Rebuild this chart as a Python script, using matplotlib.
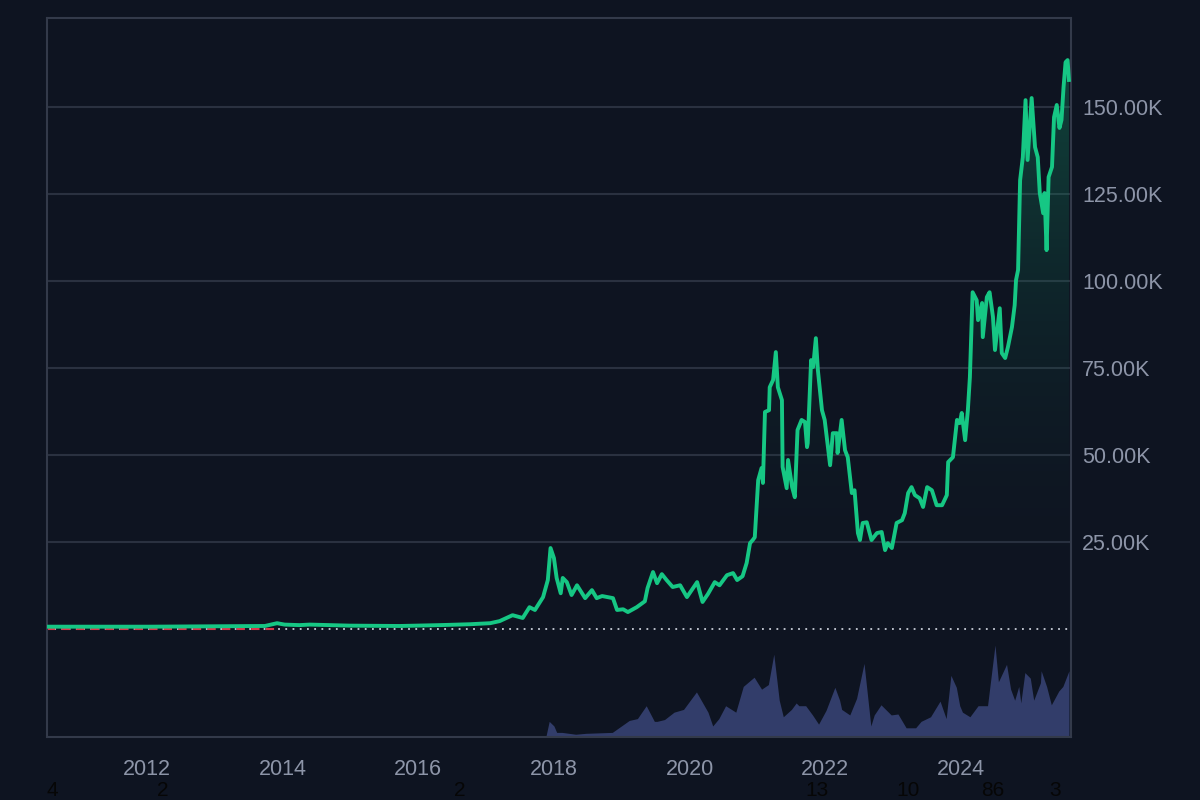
import numpy as np
import matplotlib
matplotlib.use("Agg")
import matplotlib.pyplot as plt
from matplotlib.ticker import FuncFormatter
import matplotlib.transforms as mtransforms

plt.rcParams['font.family'] = ['Liberation Sans', 'DejaVu Sans']

# price history (decimal year, price in thousands)
years = [2010.53, 2012.04, 2013.74, 2013.92, 2014.03, 2014.25, 2014.40, 2014.99, 2015.73,
         2016.32, 2016.76, 2017.06, 2017.20, 2017.39, 2017.54, 2017.64, 2017.72, 2017.84,
         2017.91, 2017.95, 2018.00, 2018.04, 2018.10, 2018.13, 2018.19, 2018.26, 2018.34,
         2018.46, 2018.56, 2018.63, 2018.71, 2018.87, 2018.93, 2019.02, 2019.09, 2019.22,
         2019.34, 2019.38, 2019.46, 2019.52, 2019.59, 2019.66, 2019.75, 2019.86, 2019.96,
         2020.03, 2020.11, 2020.19, 2020.27, 2020.37, 2020.44, 2020.55, 2020.64, 2020.70,
         2020.78, 2020.84, 2020.89, 2020.93, 2020.96, 2021.01, 2021.06, 2021.08, 2021.11,
         2021.17, 2021.18, 2021.23, 2021.27, 2021.30, 2021.36, 2021.37, 2021.43, 2021.45,
         2021.51, 2021.55, 2021.59, 2021.65, 2021.70, 2021.73, 2021.74, 2021.79, 2021.82,
         2021.86, 2021.89, 2021.95, 2021.99, 2022.07, 2022.11, 2022.17, 2022.18, 2022.24,
         2022.29, 2022.33, 2022.39, 2022.43, 2022.48, 2022.51, 2022.55, 2022.61, 2022.68,
         2022.76, 2022.83, 2022.88, 2022.92, 2022.98, 2023.05, 2023.13, 2023.17, 2023.22,
         2023.27, 2023.32, 2023.39, 2023.44, 2023.50, 2023.57, 2023.64, 2023.72, 2023.79,
         2023.81, 2023.88, 2023.94, 2023.98, 2024.01, 2024.06, 2024.10, 2024.13, 2024.17,
         2024.23, 2024.25, 2024.31, 2024.32, 2024.38, 2024.42, 2024.47, 2024.50, 2024.57,
         2024.60, 2024.65, 2024.69, 2024.75, 2024.79, 2024.81, 2024.84, 2024.87, 2024.91,
         2024.95, 2024.98, 2025.04, 2025.09, 2025.13, 2025.16, 2025.21, 2025.23, 2025.26,
         2025.29, 2025.34, 2025.37, 2025.41, 2025.45, 2025.48, 2025.51, 2025.54, 2025.57,
         2025.59]
price_k = [0.7, 0.7, 0.9, 1.7, 1.3, 1.15, 1.3, 1.0, 0.9,
           1.15, 1.4, 1.7, 2.3, 4.0, 3.2, 6.3, 5.5, 9.2,
           14.1, 23.3, 20.4, 14.7, 10.3, 14.7, 13.5, 9.8, 12.6,
           8.9, 11.2, 8.9, 9.5, 8.9, 5.5, 5.7, 4.9, 6.3,
           8.0, 11.8, 16.4, 13.2, 15.8, 14.1, 12.1, 12.6, 9.2,
           11.2, 13.5, 7.8, 10.1, 13.5, 12.6, 15.5, 16.1, 14.1,
           15.2, 19.0, 24.7, 25.6, 26.4, 42.8, 46.3, 42.0, 62.4,
           62.9, 69.5, 71.6, 79.6, 69.5, 65.8, 46.6, 40.5, 48.6,
           40.8, 37.9, 57.2, 60.1, 59.5, 52.3, 53.4, 77.3, 75.3,
           83.6, 74.4, 62.9, 60.1, 47.1, 56.3, 56.3, 50.6, 60.1,
           51.4, 49.4, 39.1, 39.9, 27.6, 25.6, 30.5, 30.7, 25.6,
           27.6, 27.9, 22.7, 24.7, 23.3, 30.5, 31.3, 33.3, 39.1,
           40.8, 38.5, 37.6, 35.1, 40.8, 39.9, 35.6, 35.6, 38.5,
           48.0, 49.4, 60.1, 59.2, 62.1, 54.3, 62.9, 72.4, 96.8,
           94.5, 88.8, 93.7, 83.9, 95.4, 96.8, 89.7, 80.2, 92.2,
           79.3, 77.9, 81.0, 86.8, 93.1, 100.3, 103.2, 129.0, 135.6,
           152.0, 134.8, 152.6, 138.5, 135.6, 125.3, 119.5, 125.3, 108.9,
           129.9, 132.8, 147.1, 150.6, 144.0, 146.3, 155.7, 162.9, 163.5,
           157.8]

# trading volume (decimal year, relative volume)
vol_years = [2017.88, 2017.93, 2018.00, 2018.04, 2018.12, 2018.32, 2018.47, 2018.86, 2019.11,
             2019.23, 2019.36, 2019.48, 2019.52, 2019.63, 2019.77, 2019.91, 2020.00, 2020.10,
             2020.27, 2020.34, 2020.43, 2020.53, 2020.68, 2020.79, 2020.95, 2021.06, 2021.16,
             2021.24, 2021.32, 2021.38, 2021.50, 2021.57, 2021.61, 2021.71, 2021.81, 2021.90,
             2022.01, 2022.14, 2022.21, 2022.24, 2022.36, 2022.46, 2022.57, 2022.67, 2022.72,
             2022.82, 2022.97, 2023.07, 2023.19, 2023.33, 2023.41, 2023.55, 2023.69, 2023.78,
             2023.85, 2023.93, 2023.98, 2024.02, 2024.13, 2024.25, 2024.39, 2024.50, 2024.55,
             2024.67, 2024.73, 2024.79, 2024.85, 2024.88, 2024.94, 2025.02, 2025.07, 2025.17,
             2025.18, 2025.26, 2025.33, 2025.44, 2025.50, 2025.59]
volume = [0, 17, 12, 5, 5, 3, 4, 5, 18,
          20, 34, 17, 17, 19, 27, 30, 39, 49,
          27, 12, 20, 34, 27, 55, 65, 52, 57,
          90, 40, 22, 30, 37, 34, 34, 24, 14,
          29, 54, 40, 30, 24, 42, 80, 12, 24,
          35, 24, 25, 10, 10, 17, 22, 39, 20,
          67, 54, 34, 27, 22, 34, 34, 100, 60,
          79, 52, 40, 55, 37, 70, 64, 40, 59,
          72, 55, 35, 50, 55, 72]

year_ticks = [2012, 2014, 2016, 2018, 2020, 2022, 2024]
price_ticks = [25, 50, 75, 100, 125, 150]

# small numbers under the axis (as in the source image)
count_years = [2010.61, 2012.24, 2016.61, 2021.87, 2023.22, 2024.47, 2025.38]
count_labels = ["4", "2", "2", "13", "10", "86", "3"]

bg = "#0e1421"
green = "#16c784"
grid_c = "#2a3140"
text_c = "#8d95a8"

fig = plt.figure(figsize=(12, 8), dpi=100, facecolor=bg)
ax = fig.add_axes([0.0392, 0.07875, 0.8533, 0.89875])
ax_v = ax.twinx()
ax_v.set_position(ax.get_position())
ax.set_zorder(ax_v.get_zorder() + 1)
ax.patch.set_visible(False)
ax_v.set_facecolor(bg)

x0, x1 = 2010.53, 2025.62
ax.set_xlim(x0, x1)
ax.set_ylim(-31.0, 175.6)

# volume on its own scale in the bottom strip
ax_v.fill_between(vol_years, 0, volume, color="#323d6a", lw=0)
ax_v.set_ylim(0, 719 / 0.92)
ax_v.set_yticks([])
for s in ax_v.spines.values():
    s.set_visible(False)

# gradient fill under the price line
poly = ax.fill_between(years, 0, price_k, color="none", lw=0)
grad = np.linspace(0, 1, 256).reshape(-1, 1)
cmap = matplotlib.colors.LinearSegmentedColormap.from_list(
    "g", [(0.055, 0.078, 0.129, 0.0), (0.086, 0.78, 0.52, 0.32)])
im = ax.imshow(grad, extent=[x0, x1, 0, 175.6], origin="lower", aspect="auto",
               cmap=cmap, zorder=1)
im.set_clip_path(poly.get_paths()[0], transform=ax.transData)

for t in price_ticks:
    ax.axhline(t, color=grid_c, lw=1.5, zorder=0.5)

ax.axhline(0, color="#c9ced8", lw=1.3, ls=(0, (1, 3)), zorder=2)
ax.plot([x0, 2013.95], [0, 0], color="#d9374a", lw=1.5, ls=(0, (4, 3)), zorder=2.5)
ax.plot(years, price_k, color=green, lw=2.8, zorder=3, solid_joinstyle="round")

ax.yaxis.tick_right()
ax.set_yticks(price_ticks)
ax.yaxis.set_major_formatter(FuncFormatter(lambda v, p: f"{v:.2f}K"))
ax.set_xticks(year_ticks)
ax.set_xticklabels([str(y) for y in year_ticks])
ax.tick_params(axis="both", length=0, colors=text_c, labelsize=15.5)
ax.tick_params(axis="x", pad=16)
ax.tick_params(axis="y", pad=8)
for s in ax.spines.values():
    s.set_color("#333a4a")
    s.set_linewidth(1.5)

trans = mtransforms.blended_transform_factory(ax.transData, fig.transFigure)
for yr, lab in zip(count_years, count_labels):
    ax.text(yr, 0.0, lab, transform=trans, ha="center", va="bottom",
            color="#060606", fontsize=15, clip_on=False)

fig.savefig("out.png", dpi=100, facecolor=bg)
